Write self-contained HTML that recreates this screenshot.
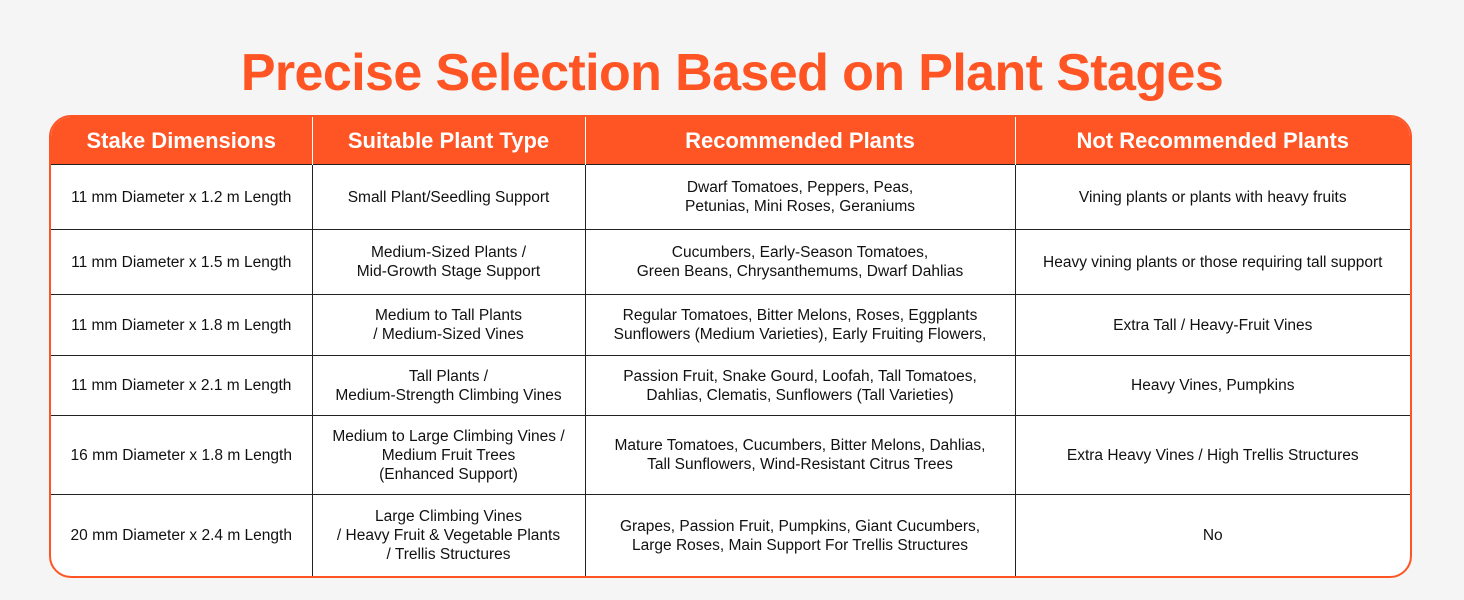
<!DOCTYPE html>
<html><head><style>
body{margin:0;width:1464px;height:600px;background:#f5f5f5;font-family:"Liberation Sans",sans-serif;overflow:hidden;position:relative}
h1{position:absolute;top:43px;left:0;width:1464px;text-align:center;margin:0;font-size:52px;font-weight:bold;color:#ff5424;letter-spacing:-0.6px;line-height:60px}
.t{position:absolute;left:49px;top:115px;width:1359px;height:459px;border:2px solid #ff5424;border-radius:22px;overflow:hidden;background:#fff}
table{border-collapse:collapse;width:100%;height:100%}
th{background:#ff5424;color:#fff;font-size:22px;font-weight:bold;height:47px;border-left:1px solid #fff;padding:0}
th:first-child{border-left:none}
td{text-align:center;font-size:15.5px;color:#111;line-height:19px;border-left:1px solid #222;border-top:1px solid #222;padding:0 4px}
td:first-child{border-left:none}
</style></head><body>
<h1>Precise Selection Based on Plant Stages</h1>
<div class="t"><table>
<colgroup><col style="width:261px"><col style="width:273px"><col style="width:430px"><col></colgroup>
<tr><th>Stake Dimensions</th><th>Suitable Plant Type</th><th>Recommended Plants</th><th>Not Recommended Plants</th></tr>
<tr style="height:65px"><td>11 mm Diameter x 1.2 m Length</td><td>Small Plant/Seedling Support</td><td>Dwarf Tomatoes, Peppers, Peas,<br>Petunias, Mini Roses, Geraniums</td><td>Vining plants or plants with heavy fruits</td></tr>
<tr style="height:65px"><td>11 mm Diameter x 1.5 m Length</td><td>Medium-Sized Plants /<br>Mid-Growth Stage Support</td><td>Cucumbers, Early-Season Tomatoes,<br>Green Beans, Chrysanthemums, Dwarf Dahlias</td><td>Heavy vining plants or those requiring tall support</td></tr>
<tr style="height:61px"><td>11 mm Diameter x 1.8 m Length</td><td>Medium to Tall Plants<br>/ Medium-Sized Vines</td><td>Regular Tomatoes, Bitter Melons, Roses, Eggplants<br>Sunflowers (Medium Varieties), Early Fruiting Flowers,</td><td>Extra Tall / Heavy-Fruit Vines</td></tr>
<tr style="height:60px"><td>11 mm Diameter x 2.1 m Length</td><td>Tall Plants /<br>Medium-Strength Climbing Vines</td><td>Passion Fruit, Snake Gourd, Loofah, Tall Tomatoes,<br>Dahlias, Clematis, Sunflowers (Tall Varieties)</td><td>Heavy Vines, Pumpkins</td></tr>
<tr style="height:79px"><td>16 mm Diameter x 1.8 m Length</td><td>Medium to Large Climbing Vines /<br>Medium Fruit Trees<br>(Enhanced Support)</td><td>Mature Tomatoes, Cucumbers, Bitter Melons, Dahlias,<br>Tall Sunflowers, Wind-Resistant Citrus Trees</td><td>Extra Heavy Vines / High Trellis Structures</td></tr>
<tr><td>20 mm Diameter x 2.4 m Length</td><td>Large Climbing Vines<br>/ Heavy Fruit &amp; Vegetable Plants<br>/ Trellis Structures</td><td>Grapes, Passion Fruit, Pumpkins, Giant Cucumbers,<br>Large Roses, Main Support For Trellis Structures</td><td>No</td></tr>
</table></div>
</body></html>
